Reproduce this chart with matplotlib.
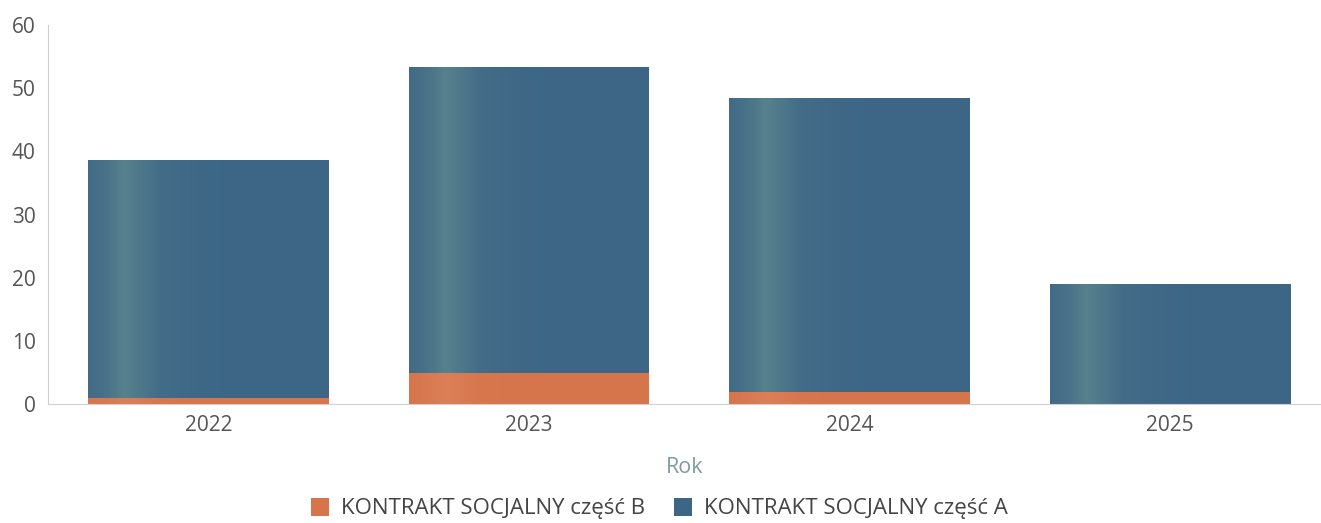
import numpy as np
import matplotlib
matplotlib.use("Agg")
import matplotlib.pyplot as plt

plt.rcParams['font.family'] = ['Open Sans', 'DejaVu Sans']

years = ['2022', '2023', '2024', '2025']
part_b = [1.0, 4.9, 1.9, 0.0]
part_a = [37.6, 48.4, 46.5, 19.0]
labels = ['KONTRAKT SOCJALNY część B', 'KONTRAKT SOCJALNY część A']

col_b = '#d6744b'
col_a = '#3c6586'

fig = plt.figure(figsize=(13.21, 5.23), dpi=100)
ax = fig.add_axes([0.0363, 0.2275, 0.9637, 0.7247])

x = np.arange(len(years))
w = 0.75
bars_b = ax.bar(x, part_b, w, color=col_b, label=labels[0], zorder=2)
bars_a = ax.bar(x, part_a, w, bottom=part_b, color=col_a, label=labels[1], zorder=2)

# light vertical band across each bar
band = np.array([0.0, 0.08, 0.15, 0.21, 0.3, 0.5, 1.0])
strength = np.array([0.1, 0.25, 0.5, 0.35, 0.12, 0.04, 0.0])
xs = np.linspace(0, 1, 300)
alpha_row = np.interp(xs, band, strength)


def glow_img(rgb, k):
    g = np.zeros((1, len(xs), 4))
    g[..., :3] = np.array(rgb)
    g[..., 3] = alpha_row * k
    return g


for bars, rgb, k in [(bars_a, (0.45, 0.62, 0.58), 1.0), (bars_b, (0.93, 0.62, 0.48), 0.5)]:
    img = glow_img(rgb, k)
    for bar in bars:
        if bar.get_height() <= 0:
            continue
        x0, y0 = bar.get_x(), bar.get_y()
        im = ax.imshow(img, extent=[x0, x0 + bar.get_width(), y0, y0 + bar.get_height()],
                       aspect='auto', zorder=3, interpolation='bilinear')
        im.set_clip_path(bar)

ax.set_xlim(-0.5, 3.47)
ax.set_ylim(0, 60)
ax.set_yticks(range(0, 61, 10))
ax.set_xticks(x)
ax.set_xticklabels(years)

for s in ['top', 'right']:
    ax.spines[s].set_visible(False)
ax.spines['left'].set_color('#d0d0d0')
ax.spines['bottom'].set_color('#d0d0d0')
ax.tick_params(axis='both', length=0, labelsize=15, labelcolor='#555555')
ax.tick_params(axis='y', pad=9)
ax.tick_params(axis='x', pad=8)

ax.set_xlabel('Rok', fontsize=15.5, color='#7f9c9c', labelpad=15)

ax.legend(loc='center', bbox_to_anchor=(0.48, -0.276), ncol=2, frameon=False,
          fontsize=16, labelcolor='#444444', handlelength=0.85, handleheight=0.85,
          handletextpad=0.5, columnspacing=1.3)

fig.savefig('out.png', dpi=100)
